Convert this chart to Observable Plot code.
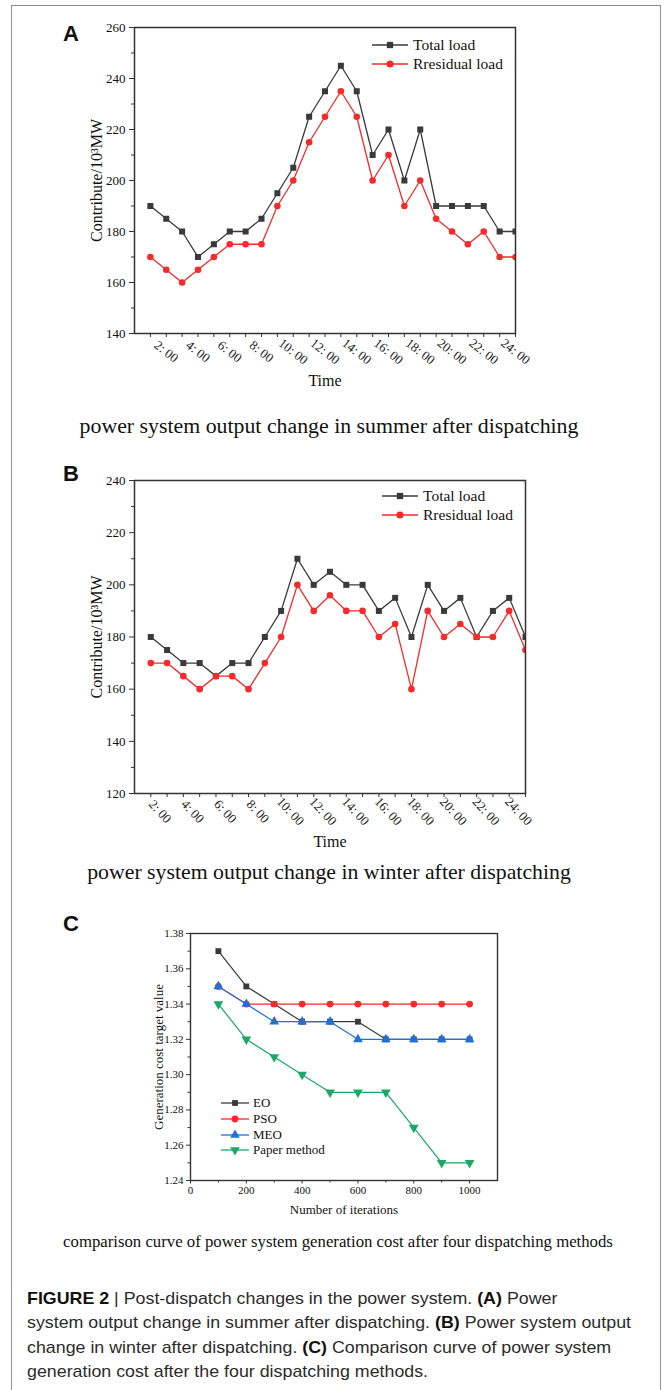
<!DOCTYPE html>
<html>
<head>
<meta charset="utf-8">
<script src="https://cdn.jsdelivr.net/npm/d3@7"></script>
<script src="https://cdn.jsdelivr.net/npm/@observablehq/plot@0.6"></script>
<style>
  body { margin: 0; background: #fff; }
  #page { position: relative; width: 664px; height: 1390px; overflow: hidden; background: #fff; }
  .box { position: absolute; left: 11px; top: 5px; width: 648px; height: 1420px; border: 1.5px solid #8f8f8f; border-bottom: none; }
  .chart { position: absolute; left: 0; }
  .chart svg { overflow: visible; }
  .plab { position: absolute; font-family: "Liberation Sans", Arial, sans-serif; font-weight: bold; font-size: 22px; line-height: 22px; color: #111; }
  .cap { position: absolute; font-family: "Liberation Serif", "Times New Roman", serif; color: #111; white-space: nowrap; line-height: 1; }
  .fig { position: absolute; left: 27px; font-family: "Liberation Sans", Arial, sans-serif; font-size: 17px; line-height: 17px; color: #2b2b2b; white-space: nowrap; transform-origin: 0 50%; }
  .fig b { color: #111; }
</style>
</head>
<body>
<div id="page">
  <div class="box"></div>
  <div class="plab" id="labA">A</div>
  <div class="plab" id="labB">B</div>
  <div class="plab" id="labC">C</div>
  <div class="chart" id="chartA" style="top:0px"></div>
  <div class="chart" id="chartB" style="top:440px"></div>
  <div class="chart" id="chartC" style="top:900px"></div>
  <div class="cap" id="capA">power system output change in summer after dispatching</div>
  <div class="cap" id="capB">power system output change in winter after dispatching</div>
  <div class="cap" id="capC">comparison curve of power system generation cost after four dispatching methods</div>
  <div class="fig" id="f1"><b>FIGURE 2</b> | Post-dispatch changes in the power system. <b>(A)</b> Power</div>
  <div class="fig" id="f2">system output change in summer after dispatching. <b>(B)</b> Power system output</div>
  <div class="fig" id="f3">change in winter after dispatching. <b>(C)</b> Comparison curve of power system</div>
  <div class="fig" id="f4">generation cost after the four dispatching methods.</div>
</div>
<script>
// ---------------- data ----------------
const slots = [1,2,3,4,5,6,7,8,9,10,11,12,13,14,15,16,17,18,19,20,21,22,23,24];
const labelSlots = [2,4,6,8,10,12,14,16,18,20,22,24];
const timeLabels = ["2: 00","4: 00","6: 00","8: 00","10: 00","12: 00","14: 00","16: 00","18: 00","20: 00","22: 00","24: 00"];

const summerTotal    = [190,185,180,170,175,180,180,185,195,205,225,235,245,235,210,220,200,220,190,190,190,190,180,180];
const summerResidual = [170,165,160,165,170,175,175,175,190,200,215,225,235,225,200,210,190,200,185,180,175,180,170,170];
const winterTotal    = [180,175,170,170,165,170,170,180,190,210,200,205,200,200,190,195,180,200,190,195,180,190,195,180];
const winterResidual = [170,170,165,160,165,165,160,170,180,200,190,196,190,190,180,185,160,190,180,185,180,180,190,175];

const summerYTicks = [140,160,180,200,220,240,260];
const summerYMinor = [150,170,190,210,230,250];
const winterYTicks = [120,140,160,180,200,220,240];
const winterYMinor = [130,150,170,190,210,230];

const iterations = [100,200,300,400,500,600,700,800,900,1000];
const eoCost    = [1.37,1.35,1.34,1.33,1.33,1.33,1.32,1.32,1.32,1.32];
const psoCost   = [1.35,1.34,1.34,1.34,1.34,1.34,1.34,1.34,1.34,1.34];
const meoCost   = [1.35,1.34,1.33,1.33,1.33,1.32,1.32,1.32,1.32,1.32];
const paperCost = [1.34,1.32,1.31,1.30,1.29,1.29,1.29,1.27,1.25,1.25];
const costTicks = [1.24,1.26,1.28,1.30,1.32,1.34,1.36,1.38];
const costMinor = [1.25,1.27,1.29,1.31,1.33,1.35,1.37];
const iterTicks = [0,200,400,600,800,1000];
const iterMinor = [100,300,500,700,900];

const loadSeries = ["Total load", "Rresidual load"];
const costSeries = ["EO", "PSO", "MEO", "Paper method"];

// ---------------- styles ----------------
const W = 664;
const SERIF = "'Liberation Serif', 'Times New Roman', serif";
const cBlack = "#3a3a3a", cRed = "#f52a2a", cBlue = "#1f6fdc", cGreen = "#1aa866";

const triUp = { draw(ctx, size) { const a = Math.sqrt(4 * size / Math.sqrt(3)), h = a * Math.sqrt(3) / 2;
  ctx.moveTo(0, -2 * h / 3); ctx.lineTo(a / 2, h / 3); ctx.lineTo(-a / 2, h / 3); ctx.closePath(); } };
const triDown = { draw(ctx, size) { const a = Math.sqrt(4 * size / Math.sqrt(3)), h = a * Math.sqrt(3) / 2;
  ctx.moveTo(0, 2 * h / 3); ctx.lineTo(a / 2, -h / 3); ctx.lineTo(-a / 2, -h / 3); ctx.closePath(); } };

function addLegend(svg, items, x0, x1, xText, ys, fontSize) {
  const g = d3.select(svg).append("g").attr("font-family", SERIF).attr("text-anchor", "start");
  items.forEach((it, i) => {
    g.append("line").attr("x1", x0).attr("x2", x1).attr("y1", ys[i]).attr("y2", ys[i])
      .attr("stroke", it.color).attr("stroke-width", 1.3);
    g.append("path").attr("transform", `translate(${(x0 + x1) / 2},${ys[i]})`)
      .attr("d", d3.symbol(it.symbol, it.size)()).attr("fill", it.color);
    g.append("text").attr("x", xText).attr("y", ys[i]).attr("dy", "0.32em").attr("text-anchor", "start")
      .attr("font-size", fontSize).attr("fill", "#111").text(it.label);
  });
}

function loadChart(cfg) {
  const rows = slots.map((s, i) => ({ s, total: cfg.total[i], residual: cfg.residual[i] }));
  const labels = labelSlots.map((s, i) => ({ s, label: timeLabels[i] }));
  const svg = Plot.plot({
    width: W, height: cfg.height,
    marginLeft: cfg.left, marginRight: W - cfg.right,
    marginTop: cfg.top, marginBottom: cfg.height - cfg.bottom,
    x: { domain: [0, 24] },
    y: { domain: cfg.yDomain },
    style: { fontFamily: SERIF, color: "#111", background: "transparent", overflow: "visible" },
    marks: [
      Plot.axisY({ ticks: cfg.yTicks, tickSize: 5, tickPadding: 4, fontSize: 13, label: null, stroke: "#333" }),
      Plot.axisY({ ticks: cfg.yMinor, tickSize: 3, tickFormat: () => "", label: null, stroke: "#333" }),
      Plot.axisX({ ticks: slots, tickSize: 4, tickFormat: () => "", label: null, stroke: "#333" }),
      Plot.text(labels, { x: "s", text: "label", frameAnchor: "bottom", rotate: cfg.rot, dx: cfg.ldx, dy: cfg.ldy,
        fontSize: 13, textAnchor: "middle", lineAnchor: "middle", fill: "#222" }),
      Plot.line(rows, { x: "s", y: "total", stroke: cBlack, strokeWidth: 1.3, clip: true }),
      Plot.dot(rows, { x: "s", y: "total", symbol: "square", fill: cBlack, r: 3.4, clip: true }),
      Plot.line(rows, { x: "s", y: "residual", stroke: cRed, strokeWidth: 1.3, clip: true }),
      Plot.dot(rows, { x: "s", y: "residual", symbol: "circle", fill: cRed, r: 3.3, clip: true }),
      Plot.frame({ stroke: "#333", strokeWidth: 1.5 }),
      Plot.text(["Contribute/10³MW"], { text: d => d, frameAnchor: "left", textAnchor: "middle", lineAnchor: "middle",
        rotate: -90, dx: -38, fontSize: 16, fill: "#111" }),
      Plot.text(["Time"], { text: d => d, frameAnchor: "bottom", textAnchor: "middle", dy: cfg.timeDy, fontSize: 16, fill: "#111", lineAnchor: "middle" })
    ]
  });
  addLegend(svg, [
    { label: loadSeries[0], color: cBlack, symbol: d3.symbolSquare, size: 40 },
    { label: loadSeries[1], color: cRed, symbol: d3.symbolCircle, size: 40 }
  ], cfg.legX0, cfg.legX1, cfg.legText, cfg.legY, 15.5);
  return svg;
}

document.getElementById("chartA").appendChild(loadChart({
  total: summerTotal, residual: summerResidual, yDomain: [140, 260], yTicks: summerYTicks, yMinor: summerYMinor,
  left: 134, right: 515, top: 27, bottom: 333, height: 395,
  rot: 38, ldx: 0, ldy: 18, timeDy: 47,
  legX0: 372, legX1: 408, legText: 413, legY: [45, 64]
}));

document.getElementById("chartB").appendChild(loadChart({
  total: winterTotal, residual: winterResidual, yDomain: [120, 240], yTicks: winterYTicks, yMinor: winterYMinor,
  left: 134, right: 525, top: 40, bottom: 353, height: 410,
  rot: 47, ldx: -7, ldy: 18, timeDy: 48,
  legX0: 382, legX1: 418, legText: 423, legY: [56, 75]
}));

// ---------------- chart C ----------------
{
  const rows = iterations.map((it, i) => ({ it, eo: eoCost[i], pso: psoCost[i], meo: meoCost[i], paper: paperCost[i] }));
  const top = 33, bottom = 280, height = 320;
  const svg = Plot.plot({
    width: W, height,
    marginLeft: 190, marginRight: W - 497, marginTop: top, marginBottom: height - bottom,
    x: { domain: [0, 1100] },
    y: { domain: [1.24, 1.38] },
    style: { fontFamily: SERIF, color: "#111", background: "transparent", overflow: "visible" },
    marks: [
      Plot.axisY({ ticks: costTicks, tickFormat: d3.format(".2f"), tickSize: 4, tickPadding: 3, fontSize: 11, label: null, stroke: "#333" }),
      Plot.axisY({ ticks: costMinor, tickSize: 2.5, tickFormat: () => "", label: null, stroke: "#333" }),
      Plot.axisX({ ticks: iterTicks, tickFormat: d3.format("d"), tickSize: 3.5, tickPadding: 2, fontSize: 11, label: null, stroke: "#333" }),
      Plot.axisX({ ticks: iterMinor, tickSize: 2.5, tickFormat: () => "", label: null, stroke: "#333" }),
      Plot.line(rows, { x: "it", y: "eo", stroke: cBlack, strokeWidth: 1.2 }),
      Plot.dot(rows, { x: "it", y: "eo", symbol: "square", fill: cBlack, r: 3.3 }),
      Plot.line(rows, { x: "it", y: "pso", stroke: cRed, strokeWidth: 1.2 }),
      Plot.dot(rows, { x: "it", y: "pso", symbol: "circle", fill: cRed, r: 3.4 }),
      Plot.line(rows, { x: "it", y: "meo", stroke: cBlue, strokeWidth: 1.2 }),
      Plot.dot(rows, { x: "it", y: "meo", symbol: triUp, fill: cBlue, r: 3.6 }),
      Plot.line(rows, { x: "it", y: "paper", stroke: cGreen, strokeWidth: 1.2 }),
      Plot.dot(rows, { x: "it", y: "paper", symbol: triDown, fill: cGreen, r: 3.6 }),
      Plot.frame({ stroke: "#333", strokeWidth: 1.4 }),
      Plot.text(["Generation cost target value"], { text: d => d, frameAnchor: "left", textAnchor: "middle", lineAnchor: "middle",
        rotate: -90, dx: -32, fontSize: 13, fill: "#111" }),
      Plot.text(["Number of iterations"], { text: d => d, frameAnchor: "bottom", textAnchor: "middle", dy: 29, fontSize: 13, fill: "#111", lineAnchor: "middle" })
    ]
  });
  addLegend(svg, [
    { label: costSeries[0], color: cBlack, symbol: d3.symbolSquare, size: 34 },
    { label: costSeries[1], color: cRed, symbol: d3.symbolCircle, size: 36 },
    { label: costSeries[2], color: cBlue, symbol: triUp, size: 40 },
    { label: costSeries[3], color: cGreen, symbol: triDown, size: 40 }
  ], 221, 249, 253, [203, 219, 235, 250], 13);
  document.getElementById("chartC").appendChild(svg);
}

// ---------------- text layout ----------------
function place(id, left, top) { const e = document.getElementById(id); e.style.left = left + "px"; e.style.top = top + "px"; return e; }
place("labA", 63, 41.4 - 18.6);
place("labB", 63, 482 - 18.6);
place("labC", 63, 931.5 - 18.6);

function fitCaption(id, targetWidth, centerX, baseline, fs0) {
  const e = document.getElementById(id);
  e.style.fontSize = fs0 + "px";
  const w = e.getBoundingClientRect().width;
  const fs = fs0 * targetWidth / w;
  e.style.fontSize = fs + "px";
  const w2 = e.getBoundingClientRect().width;
  e.style.left = (centerX - w2 / 2) + "px";
  e.style.top = (baseline - 0.8375 * fs) + "px";
}
fitCaption("capA", 499, 329, 434, 20);
fitCaption("capB", 484, 329, 880, 20);
fitCaption("capC", 550, 338, 1248, 15);

{
  const f2 = document.getElementById("f2");
  const w = f2.getBoundingClientRect().width;
  const sx = 604 / w;
  const baselines = [1304, 1328.5, 1353, 1377.5];
  ["f1","f2","f3","f4"].forEach((id, i) => {
    const e = document.getElementById(id);
    e.style.transform = `scaleX(${sx})`;
    e.style.top = (baselines[i] - 0.8465 * 17) + "px";
  });
}
</script>
</body>
</html>
